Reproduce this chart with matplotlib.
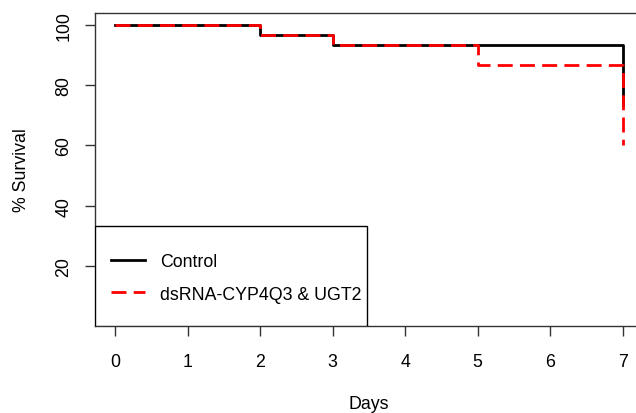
import matplotlib
matplotlib.use("Agg")
import matplotlib.pyplot as plt
from matplotlib.patches import Rectangle

# survival data (step points, % survival)
control_days = [0, 2, 3, 7]
control_surv = [100, 96.67, 93.33, 73.33]
dsrna_days = [0, 2, 3, 5, 7]
dsrna_surv = [100, 96.67, 93.33, 86.67, 60]

x_ticks = [0, 1, 2, 3, 4, 5, 6, 7]
y_ticks = [20, 40, 60, 80, 100]
labels = ["Control", "dsRNA-CYP4Q3 & UGT2"]

plt.rcParams['font.family'] = ['Liberation Sans', 'DejaVu Sans']
fs = 12.8

fig = plt.figure(figsize=(6.36, 4.14), dpi=100)
ax = fig.add_axes([95 / 636, 87 / 414, 548 / 636, 313 / 414])

ax.step(control_days, control_surv, where='post', color='black', lw=2, label=labels[0])
ax.step(dsrna_days, dsrna_surv, where='post', color='#ff0000', lw=2,
        dashes=(5.4, 2.6), label=labels[1])

ax.set_xlim(-0.28, 7.28)
ax.set_ylim(0.16, 103.84)
ax.set_xticks(x_ticks)
ax.set_yticks(y_ticks)
ax.tick_params(axis='both', labelsize=fs, length=7.2, width=1, color='#333333')
ax.tick_params(axis='x', pad=12)
ax.tick_params(axis='y', pad=9)
for lab in ax.get_yticklabels():
    lab.set_rotation(90)
    lab.set_va('center')
for sp in ax.spines.values():
    sp.set_color('#333333')
    sp.set_linewidth(1)

ax.set_xlabel("Days", fontsize=fs, labelpad=18.5)
ax.set_ylabel("% Survival", fontsize=fs, labelpad=18)

# legend box (bottom left, R style)
ax.add_patch(Rectangle((0, 0), 272 / 548, 100 / 313, transform=ax.transAxes,
                       facecolor='white', edgecolor='black', lw=1, zorder=5))
leg = ax.legend(loc='center left', bbox_to_anchor=(16 / 548, 48 / 313),
                frameon=False, fontsize=fs, borderpad=0, borderaxespad=0,
                handlelength=1.9, handletextpad=0.85, labelspacing=0.85)
leg.set_zorder(6)

fig.savefig("out.png", dpi=100)
